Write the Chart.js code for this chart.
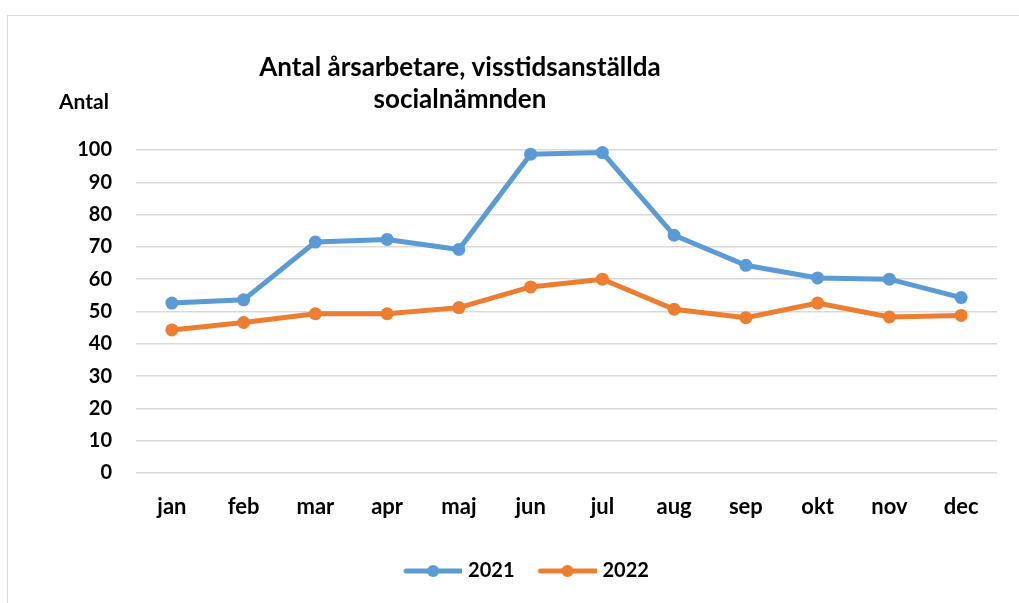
<!DOCTYPE html>
<html>
<head>
<meta charset="utf-8">
<script src="https://cdn.jsdelivr.net/npm/chart.js@4/dist/chart.umd.min.js"></script>
<style>
  html, body { margin: 0; padding: 0; background: #fff; }
  #wrap { width: 1019px; height: 603px; position: relative; }
</style>
</head>
<body>
<div id="wrap"><canvas id="chart" width="1019" height="603"></canvas></div>
<script>
// data
var months = ['jan', 'feb', 'mar', 'apr', 'maj', 'jun', 'jul', 'aug', 'sep', 'okt', 'nov', 'dec'];
var values2021 = [52.6, 53.6, 71.5, 72.3, 69.2, 98.7, 99.2, 73.6, 64.3, 60.4, 60.0, 54.3];
var values2022 = [44.3, 46.6, 49.3, 49.3, 51.2, 57.6, 60.0, 50.7, 48.1, 52.6, 48.3, 48.8];
var seriesNames = ['2021', '2022'];
var titleLines = ['Antal årsarbetare, visstidsanställda', 'socialnämnden'];
var yAxisLabel = 'Antal';

var blue = '#5b9bd5';
var orange = '#ed7d31';
var fontFamily = 'Lato, "Liberation Sans", sans-serif';

// legend symbol: line with a dot, transparent space on the left for item spacing
function legendSymbol(color) {
  var c = document.createElement('canvas');
  c.width = 76; c.height = 14;
  var g = c.getContext('2d');
  g.strokeStyle = color;
  g.lineWidth = 5;
  g.lineCap = 'round';
  g.beginPath(); g.moveTo(20, 7); g.lineTo(75, 7); g.stroke();
  g.fillStyle = color;
  g.beginPath(); g.arc(47, 7, 6, 0, Math.PI * 2); g.fill();
  return c;
}

// frame, title and "Antal" label
var decorPlugin = {
  id: 'decor',
  beforeDraw: function (chart) {
    var ctx = chart.ctx;
    ctx.save();
    ctx.strokeStyle = '#d9d9d9';
    ctx.lineWidth = 1;
    ctx.strokeRect(7.5, 15.5, 1100, 700);
    ctx.restore();
  },
  afterDraw: function (chart) {
    var ctx = chart.ctx;
    ctx.save();
    ctx.fillStyle = '#000';
    ctx.textAlign = 'center';
    ctx.textBaseline = 'middle';
    ctx.font = 'bold 26px ' + fontFamily;
    ctx.fillText(titleLines[0], 460, 68);
    ctx.fillText(titleLines[1], 460, 100);
    ctx.font = 'bold 21px ' + fontFamily;
    ctx.fillText(yAxisLabel, 84, 102);
    ctx.restore();
  }
};

function lineDataset(name, values, color) {
  return {
    label: name,
    data: values,
    borderColor: color,
    backgroundColor: color,
    borderWidth: 5,
    pointRadius: 6.5,
    pointBackgroundColor: color,
    pointBorderWidth: 0,
    tension: 0,
    clip: false,
    legendImg: legendSymbol(color)
  };
}

var ctx = document.getElementById('chart').getContext('2d');
var chart = new Chart(ctx, {
  type: 'line',
  data: {
    labels: months,
    datasets: [
      lineDataset(seriesNames[0], values2021, blue),
      lineDataset(seriesNames[1], values2022, orange)
    ]
  },
  options: {
    responsive: false,
    animation: false,
    layout: {
      padding: { top: 150, right: 22, bottom: 12, left: 42 }
    },
    plugins: {
      title: { display: false },
      tooltip: { enabled: false },
      legend: {
        position: 'bottom',
        labels: {
          usePointStyle: true,
          pointStyleWidth: 68,
          padding: 10,
          color: '#000',
          font: { family: fontFamily, size: 20, weight: 'bold' },
          generateLabels: function (chart) {
            return chart.data.datasets.map(function (ds, i) {
              return {
                text: ds.label,
                pointStyle: ds.legendImg,
                fillStyle: ds.borderColor,
                strokeStyle: ds.borderColor,
                lineWidth: 0,
                fontColor: '#000',
                datasetIndex: i
              };
            });
          }
        }
      }
    },
    scales: {
      x: {
        offset: true,
        grid: { display: false, drawTicks: false },
        border: { display: false },
        ticks: {
          color: '#000',
          padding: 21,
          font: { family: fontFamily, size: 22, weight: 'bold' }
        },
        afterFit: function (s) { s.height = 78; }
      },
      y: {
        min: 0,
        max: 100,
        ticks: {
          stepSize: 10,
          color: '#000',
          padding: 24,
          font: { family: fontFamily, size: 20, weight: 'bold' }
        },
        grid: { color: '#d9d9d9', lineWidth: 1.5, drawTicks: false },
        border: { display: false },
        afterFit: function (s) { s.width = 94; }
      }
    }
  },
  plugins: [decorPlugin]
});
</script>
</body>
</html>
